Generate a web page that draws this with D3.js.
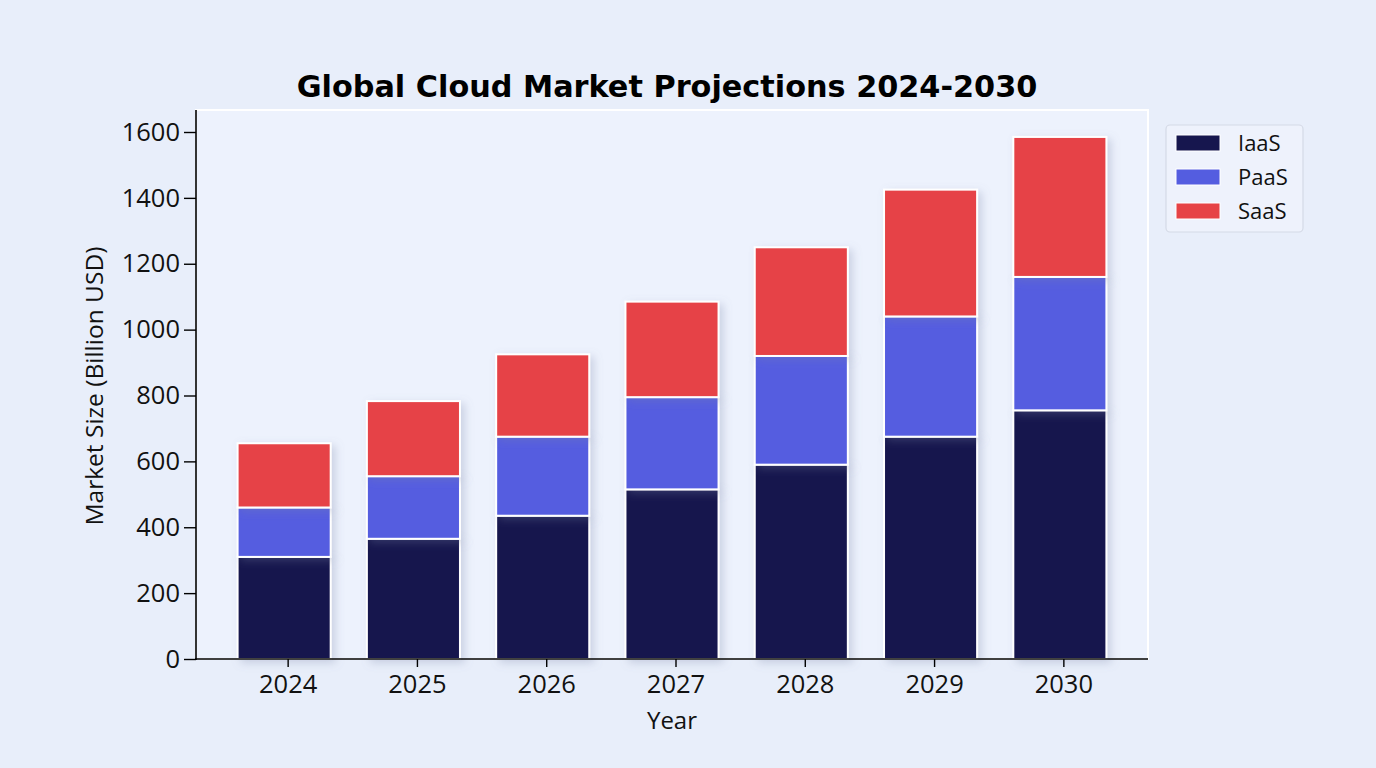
<!DOCTYPE html>
<html>
<head>
<meta charset="utf-8">
<script src="https://cdn.jsdelivr.net/npm/d3@7"></script>
<style>
  html, body { margin: 0; padding: 0; background: #e8eefa; }
  svg { display: block; font-family: "Open Sans", sans-serif; }
</style>
</head>
<body>
<svg id="chart" width="1376" height="768"></svg>
<script>
const years = ["2024", "2025", "2026", "2027", "2028", "2029", "2030"];
const seriesNames = ["IaaS", "PaaS", "SaaS"];
const iaas = [310, 365, 435, 515, 590, 675, 755];
const paas = [150, 190, 240, 280, 330, 365, 405];
const saas = [195, 228, 250, 290, 330, 385, 425];
const yTicks = [0, 200, 400, 600, 800, 1000, 1200, 1400, 1600];
const colors = ["#16164e", "#545de0", "#e64346"];

const rows = years.map((y, i) => ({ year: y, IaaS: iaas[i], PaaS: paas[i], SaaS: saas[i] }));
const stacked = d3.stack().keys(seriesNames)(rows);

const svg = d3.select("#chart");
const pLeft = 196, pRight = 1148, pTop = 110, pBottom = 659;
const FONT = "Open Sans";

const defs = svg.append("defs");
const f = defs.append("filter").attr("id", "shadow").attr("x", "-20%").attr("y", "-20%").attr("width", "150%").attr("height", "150%");
f.append("feDropShadow").attr("dx", 4).attr("dy", 3).attr("stdDeviation", 4)
  .attr("flood-color", "#7a86a8").attr("flood-opacity", 0.3);

// axes background
svg.append("rect").attr("x", pLeft).attr("y", pTop).attr("width", pRight - pLeft).attr("height", pBottom - pTop)
  .attr("fill", "#edf2fd").attr("stroke", "#ffffff").attr("stroke-width", 2);

const x = d3.scaleBand().domain(years).range([219.5, 1124.5]).paddingInner(0.28).paddingOuter(0.14);
const y = d3.scaleLinear().domain([0, 1666.8]).range([pBottom, pTop]);

const color = d3.scaleOrdinal().domain(seriesNames).range(colors);

// bars
const g = svg.append("g");
stacked.forEach(layer => {
  g.append("g").attr("fill", color(layer.key))
    .selectAll("rect").data(layer).join("rect")
    .attr("x", d => x(d.data.year))
    .attr("y", d => y(d[1]))
    .attr("width", x.bandwidth())
    .attr("height", d => y(d[0]) - y(d[1]))
    .attr("stroke", "#ffffff").attr("stroke-width", 2)
    .attr("filter", "url(#shadow)");
});

// y axis
const yAxis = svg.append("g").attr("transform", `translate(${pLeft},0)`)
  .call(d3.axisLeft(y).tickValues(yTicks).tickFormat(d3.format("d")).tickSize(12).tickPadding(4).tickSizeOuter(0));
yAxis.select(".domain").remove();
svg.append("line").attr("x1", pLeft).attr("x2", pLeft).attr("y1", pTop).attr("y2", pBottom + 1)
  .attr("stroke", "#000").attr("stroke-width", 1.6);
yAxis.selectAll(".tick line").attr("stroke", "#000").attr("stroke-width", 1.4);
yAxis.selectAll(".tick text").attr("font-size", 25.5).attr("fill", "#111").attr("font-family", FONT);

// x axis
const xAxis = svg.append("g").attr("transform", `translate(4,${pBottom})`)
  .call(d3.axisBottom(x).tickSize(8).tickPadding(8).tickSizeOuter(0));
xAxis.select(".domain").remove();
svg.append("line").attr("x1", pLeft - 1).attr("x2", pRight).attr("y1", pBottom).attr("y2", pBottom)
  .attr("stroke", "#000").attr("stroke-width", 1.6);
xAxis.selectAll(".tick line").attr("stroke", "#000").attr("stroke-width", 1.4);
xAxis.selectAll(".tick text").attr("font-size", 25.5).attr("fill", "#111").attr("font-family", FONT);

// axis labels
svg.append("text").attr("x", 672).attr("y", 729).attr("text-anchor", "middle")
  .attr("font-size", 24).attr("fill", "#111").text("Year");
svg.append("text").attr("transform", `translate(103,386) rotate(-90)`)
  .attr("text-anchor", "middle").attr("font-size", 24.5).attr("fill", "#111").text("Market Size (Billion USD)");

// title
svg.append("text").attr("x", 667).attr("y", 97).attr("text-anchor", "middle")
  .attr("font-family", "DejaVu Sans")
  .attr("font-size", 30.3).attr("font-weight", "bold").attr("fill", "#000")
  .text("Global Cloud Market Projections 2024-2030");

// legend
const lg = svg.append("g");
lg.append("rect").attr("x", 1166).attr("y", 125).attr("width", 137).attr("height", 107).attr("rx", 4)
  .attr("fill", "#eef2fc").attr("stroke", "#d4dae6").attr("stroke-width", 1.2);
seriesNames.forEach((s, i) => {
  const yy = 143 + i * 34;
  lg.append("rect").attr("x", 1176).attr("y", yy - 8).attr("width", 44).attr("height", 16)
    .attr("fill", color(s)).attr("stroke", "#ffffff").attr("stroke-width", 1);
  lg.append("text").attr("x", 1238).attr("y", yy + 8).attr("font-size", 22).attr("fill", "#111").text(s);
});
</script>
</body>
</html>
